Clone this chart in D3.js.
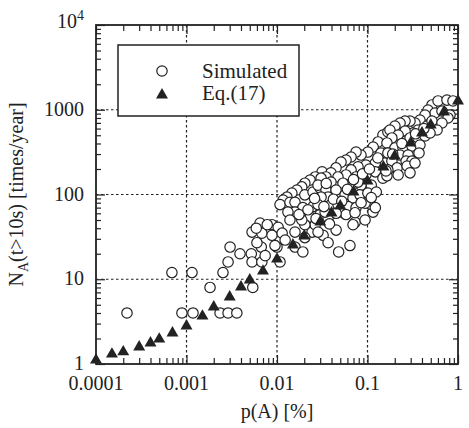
<!DOCTYPE html>
<html>
<head>
<meta charset="utf-8">
<script src="https://cdn.jsdelivr.net/npm/d3@7"></script>
<style>
  body { margin: 0; background: #fff; }
  svg text { fill: #222; }
</style>
</head>
<body>
<svg id="chart" width="469" height="428" font-family="'Liberation Serif', 'Times New Roman', 'DejaVu Serif', serif"></svg>
<script>
// Eq.(17) values
const eqX = [0.0001, 0.00015, 0.0002, 0.0003, 0.0004, 0.0005, 0.0007, 0.001, 0.0015, 0.002,
             0.003, 0.004, 0.005, 0.007, 0.01, 0.015, 0.02, 0.03, 0.04, 0.05,
             0.07, 0.1, 0.15, 0.2, 0.3, 0.4, 0.5, 0.7, 1]
const eqY = [1.11, 1.31, 1.39, 1.59, 1.77, 1.97, 2.32, 2.81, 3.68, 4.71,
             6.17, 8.1, 9.8, 12.5, 17.3, 25.4, 32.4, 47.4, 60.5, 73.1,
             107, 144, 211, 285, 405, 532, 661, 941, 1268]

// simulated values
const simX = [0.00022, 0.00069, 0.00115, 0.00089, 0.00118, 0.00182, 0.00253, 0.00288, 0.00303, 0.00235,
              0.00288, 0.0036, 0.0039, 0.0052, 0.0053, 0.0065, 0.0068, 0.0053, 0.0054, 0.0068,
              0.0067, 0.0059, 0.0088, 0.0103, 0.0100, 0.0108, 0.0158, 0.0244, 0.0323, 0.0367,
              0.048, 0.064, 0.073, 0.094, 0.054, 0.115, 0.107,
              0.0315, 0.0264, 0.0232, 0.0203, 0.0188, 0.0166, 0.0146, 0.0129, 0.0117, 0.0108,
              0.0139, 0.0158, 0.0203, 0.025, 0.0299, 0.025, 0.0193, 0.0158, 0.0132, 0.0232,
              0.0299, 0.0264, 0.0203, 0.0188, 0.0078, 0.0088, 0.0114, 0.0139, 0.0123, 0.0095,
              0.0060, 0.0074, 0.0158, 0.0203, 0.0284, 0.0193,
              0.148, 0.168, 0.131, 0.1155, 0.101, 0.0847, 0.0747, 0.0658, 0.0579, 0.051,
              0.0449, 0.0395, 0.0348, 0.0307, 0.0284, 0.141, 0.156, 0.122, 0.096, 0.0786,
              0.0658, 0.0579, 0.0472, 0.0747, 0.096, 0.122, 0.148, 0.11, 0.0847, 0.0658,
              0.0536, 0.0395, 0.0348, 0.0449, 0.0565, 0.0692, 0.0826, 0.101, 0.125, 0.0367,
              0.0307, 0.0284, 0.0395, 0.0472, 0.061, 0.0747, 0.094, 0.122, 0.0579, 0.0728,
              0.0692, 0.0367, 0.034,
              0.516, 0.602, 0.755, 0.88, 0.466, 0.558, 0.665, 0.816, 0.432, 0.38,
              0.335, 0.295, 0.26, 0.229, 0.201, 0.177, 0.361, 0.454, 0.516, 0.318,
              0.26, 0.218, 0.186, 0.164, 0.267, 0.295, 0.361, 0.432, 0.201, 0.247,
              0.31, 0.38, 0.168, 0.229, 0.281, 0.371, 0.186, 0.267, 0.31, 0.212,
              0.274, 0.168, 0.335, 0.164, 0.218, 0.295,
              0.0786, 0.775, 0.665, 0.587, 0.491,
              0.0175, 0.022, 0.027, 0.033, 0.042, 0.045, 0.052, 0.06, 0.07, 0.088,
              0.105, 0.13, 0.11, 0.085, 0.16, 0.19, 0.24, 0.34, 0.42, 0.045,
              0.038, 0.026, 0.035]
const simY = [4, 12, 12, 4, 4, 8, 12, 16, 24, 4,
              4, 4, 20, 20, 36, 46, 35, 16, 8, 16,
              24, 40, 44, 41, 24, 16, 36, 36, 33, 27,
              21, 25, 47, 50, 61, 62, 77,
              185, 161, 148, 136, 123, 113, 104, 93, 86, 76,
              81, 81, 99, 107, 119, 72, 70, 62, 62, 54,
              58, 44, 44, 50, 44, 33, 35, 50, 29, 25,
              27, 19, 24, 31, 36, 21,
              503, 546, 417, 363, 317, 292, 317, 277, 255, 241,
              206, 180, 161, 156, 129, 309, 235, 235, 223, 212,
              195, 170, 161, 161, 170, 185, 156, 129, 129, 123,
              136, 140, 113, 113, 99, 91, 99, 104, 107, 93,
              93, 76, 76, 76, 72, 70, 79, 70, 58, 61,
              44, 53, 62,
              1140, 1270, 1300, 1270, 993, 915, 966, 866, 866, 757,
              698, 736, 736, 698, 643, 577, 577, 643, 736, 532,
              561, 503, 465, 406, 428, 465, 465, 491, 354, 354,
              373, 384, 309, 292, 292, 309, 248, 248, 248, 206,
              217, 195, 235, 166, 170, 180,
              140, 800, 698, 577, 532,
              58, 66, 52, 72, 88, 60, 83, 115, 150, 175,
              200, 270, 92, 80, 190, 300, 400, 520, 600, 38,
              45, 90, 135]

const xMajor = [0.0001, 0.001, 0.01, 0.1, 1]
const xLabels = ["0.0001", "0.001", "0.01", "0.1", "1"]
const yMajor = [1, 10, 100, 1000, 10000]
const yLabels = ["1", "10", "100", "1000", "10^4"]
const legendLabels = ["Simulated", "Eq.(17)"]

const svg = d3.select("#chart")
const ink = "#222"
const pL = 96, pR = 458, pT = 25, pB = 364

let x = d3.scaleLog().domain([0.0001, 1]).range([pL, pR])
let y = d3.scaleLog().domain([1, 10000]).range([pB, pT])

// dotted grid at inner decades
let grid = svg.append("g")
grid.selectAll(".gx")
    .data(xMajor.slice(1, -1))
    .join("line")
    .attr("class", "gx")
    .attr("x1", d => x(d)).attr("x2", d => x(d))
    .attr("y1", pT).attr("y2", pB)
grid.selectAll(".gy")
    .data(yMajor.slice(1, -1))
    .join("line")
    .attr("class", "gy")
    .attr("y1", d => y(d)).attr("y2", d => y(d))
    .attr("x1", pL).attr("x2", pR)
grid.selectAll("line")
    .attr("stroke", ink)
    .attr("stroke-width", 1.2)
    .attr("stroke-dasharray", "2.5,2.5")

// inward ticks on all four sides
const xMinor = x.ticks().filter(d => !xMajor.some(m => Math.abs(m - d) / m < 1e-6))
const yMinor = y.ticks().filter(d => !yMajor.some(m => Math.abs(m - d) / m < 1e-6))

function ticks(axis, tr){
  let g = svg.append("g")
             .attr("transform", tr)
             .call(axis.tickFormat(""))
  g.select(".domain").remove()
  g.selectAll("line").attr("stroke", ink).attr("stroke-width", 1.2)
}
ticks(d3.axisBottom(x).tickValues(xMinor).tickSize(-6), "translate(0," + pB + ")")
ticks(d3.axisTop(x).tickValues(xMinor).tickSize(-6), "translate(0," + pT + ")")
ticks(d3.axisLeft(y).tickValues(yMinor).tickSize(-5), "translate(" + pL + ",0)")
ticks(d3.axisRight(y).tickValues(yMinor).tickSize(-5), "translate(" + pR + ",0)")
ticks(d3.axisBottom(x).tickValues(xMajor).tickSize(-9), "translate(0," + pB + ")")
ticks(d3.axisTop(x).tickValues(xMajor).tickSize(-9), "translate(0," + pT + ")")
ticks(d3.axisLeft(y).tickValues(yMajor).tickSize(-9), "translate(" + pL + ",0)")
ticks(d3.axisRight(y).tickValues(yMajor).tickSize(-9), "translate(" + pR + ",0)")

// frame
svg.append("rect")
   .attr("x", pL).attr("y", pT)
   .attr("width", pR - pL).attr("height", pB - pT)
   .attr("fill", "none")
   .attr("stroke", ink)
   .attr("stroke-width", 1.8)

// tick labels
svg.append("g").selectAll("text")
   .data(xMajor)
   .join("text")
   .attr("x", d => x(d))
   .attr("y", pB + 26)
   .attr("text-anchor", "middle")
   .style("font-size", "20px")
   .text((d, i) => xLabels[i])

svg.append("g").selectAll("text")
   .data(yMajor)
   .join("text")
   .attr("x", pL - 12)
   .attr("y", d => y(d) + 6)
   .attr("text-anchor", "end")
   .style("font-size", "20px")
   .each(function(d, i){
     let t = d3.select(this)
     let parts = yLabels[i].split("^")
     t.append("tspan").text(parts[0])
     if(parts.length > 1){
       t.attr("y", y(d) + 3)
       t.append("tspan").attr("dy", -8).style("font-size", "14px").text(parts[1])
     }
   })

// axis titles
svg.append("text")
   .attr("x", (pL + pR) / 2)
   .attr("y", 418)
   .attr("text-anchor", "middle")
   .style("font-size", "20px")
   .text("p(A) [%]")

let yt = svg.append("text")
   .attr("transform", "translate(23," + (pT + pB) / 2 + ") rotate(-90)")
   .attr("text-anchor", "middle")
   .style("font-size", "20px")
yt.append("tspan").text("N")
yt.append("tspan").attr("dy", 5).style("font-size", "14px").text("A")
yt.append("tspan").attr("dy", -5).text("(t>10s) [times/year]")

// simulated circles
const sim = simX.map((v, i) => [v, simY[i]])
svg.append("g").selectAll("circle")
   .data(sim)
   .join("circle")
   .attr("cx", d => x(d[0]))
   .attr("cy", d => y(d[1]))
   .attr("r", 5.2)
   .attr("fill", "#fff")
   .attr("stroke", ink)
   .attr("stroke-width", 1.2)

// Eq.(17) triangles
const tri = d3.symbol().type(d3.symbolTriangle).size(62)
svg.append("g").selectAll("path")
   .data(eqX.map((v, i) => [v, eqY[i]]))
   .join("path")
   .attr("transform", d => "translate(" + x(d[0]) + "," + y(d[1]) + ")")
   .attr("d", tri)
   .attr("fill", ink)

// legend
let lg = svg.append("g")
lg.append("rect")
  .attr("x", 118).attr("y", 45)
  .attr("width", 181).attr("height", 71)
  .attr("fill", "#fff")
  .attr("stroke", ink)
  .attr("stroke-width", 1.5)
lg.append("circle")
  .attr("cx", 162).attr("cy", 71).attr("r", 5.2)
  .attr("fill", "#fff").attr("stroke", ink).attr("stroke-width", 1.2)
lg.append("path")
  .attr("transform", "translate(162,95)")
  .attr("d", tri)
  .attr("fill", ink)
lg.selectAll("text")
  .data(legendLabels)
  .join("text")
  .attr("x", 202)
  .attr("y", (d, i) => 78 + i * 22)
  .style("font-size", "21px")
  .text(d => d)
</script>
</body>
</html>
